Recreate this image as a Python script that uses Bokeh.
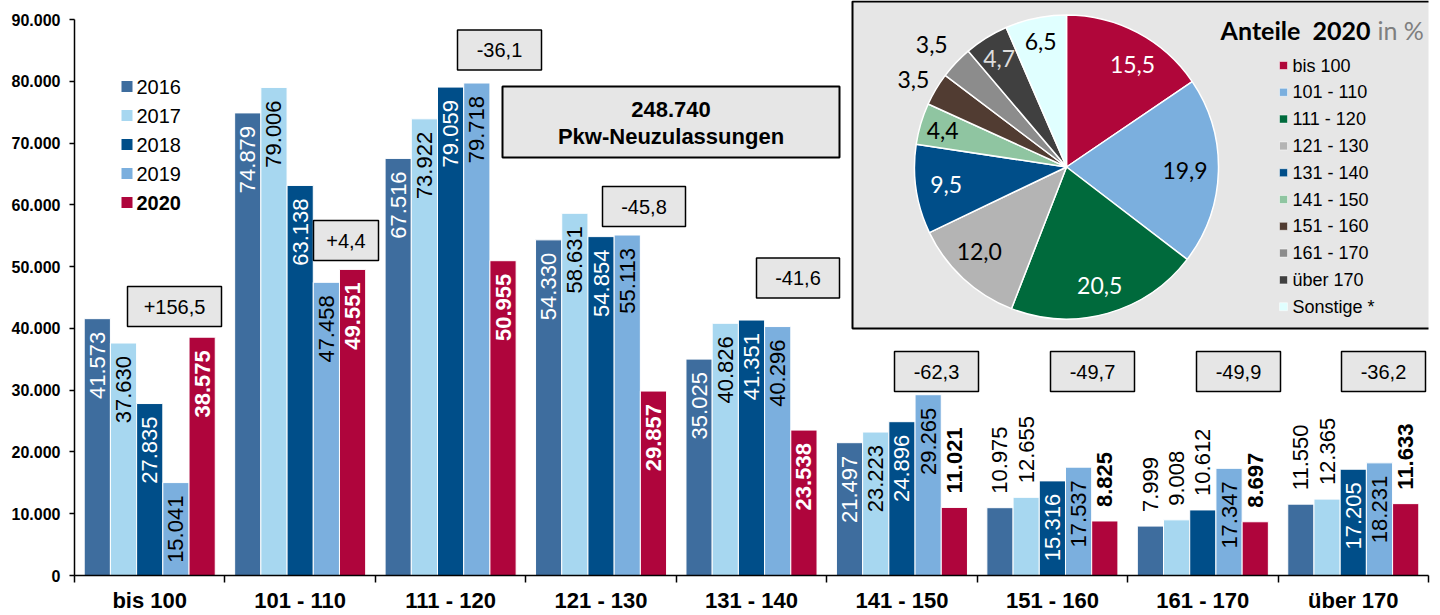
import math
from bokeh.plotting import figure
from bokeh.models import Range1d, FixedTicker
from bokeh.core.properties import value
from bokeh.embed import file_html
from bokeh.resources import INLINE

# ---------------- data ----------------
categories = ["bis 100", "101 - 110", "111 - 120", "121 - 130", "131 - 140",
              "141 - 150", "151 - 160", "161 - 170", "über 170"]
years = ["2016", "2017", "2018", "2019", "2020"]
v2016 = [41573, 74879, 67516, 54330, 35025, 21497, 10975, 7999, 11550]
v2017 = [37630, 79006, 73922, 58631, 40826, 23223, 12655, 9008, 12365]
v2018 = [27835, 63138, 79059, 54854, 41351, 24896, 15316, 10612, 17205]
v2019 = [15041, 47458, 79718, 55113, 40296, 29265, 17537, 17347, 18231]
v2020 = [38575, 49551, 50955, 29857, 23538, 11021, 8825, 8697, 11633]
changes = ["+156,5", "+4,4", "-36,1", "-45,8", "-41,6", "-62,3", "-49,7", "-49,9", "-36,2"]
y_ticks = [0, 10000, 20000, 30000, 40000, 50000, 60000, 70000, 80000, 90000]
y_tick_labels = ["0", "10.000", "20.000", "30.000", "40.000", "50.000",
                 "60.000", "70.000", "80.000", "90.000"]
total_value = "248.740"
total_text = "Pkw-Neuzulassungen"
pie_names = ["bis 100", "101 - 110", "111 - 120", "121 - 130", "131 - 140",
             "141 - 150", "151 - 160", "161 - 170", "über 170", "Sonstige *"]
pie_shares = [15.5, 19.9, 20.5, 12.0, 9.5, 4.4, 3.5, 3.5, 4.7, 6.5]
pie_title = "Anteile\u00a0 2020"
pie_unit = "in %"

# ---------------- styles ----------------
bar_colors = ["#3E6D9E", "#A7D7F0", "#004E89", "#7BAFDE", "#AF053C"]
inside_text_colors = ["white", "black", "white", "black", "white"]
pie_colors = ["#B0063A", "#7BAFDE", "#006A3C", "#B4B4B4", "#004E89",
              "#8FC5A1", "#513C32", "#8C8C8C", "#404040", "#E0FFFF"]
pie_text_colors = ["white", "black", "white", "black", "white",
                   "black", "black", "black", "#DDDDDD", "black"]
BOX_FILL = "#E6E6E6"
FONT = value("Liberation Sans")
PIE_FONT = value("Lato")

# ---------------- layout (screen px) ----------------
W, H = 1440, 615
SX0, SX1 = 74, 1428
SY_TOP, SY_ZERO, SY_90 = 0, 575, 19
PXX = (SX1 - SX0) / 9
PXY = (SY_ZERO - SY_90) / 90000
Y_END = (SY_ZERO - SY_TOP) / PXY


def X(sx):
    return 0.5 + (sx - SX0) / PXX


def Y(sy):
    return (SY_ZERO - sy) / PXY


def DX(px):
    return px / PXX


def DY(px):
    return px / PXY


p = figure(width=W, height=H, x_range=Range1d(0.5, 9.5), y_range=Range1d(0, Y_END),
           output_backend="svg", toolbar_location=None,
           min_border_left=SX0, min_border_right=W - SX1,
           min_border_top=SY_TOP, min_border_bottom=H - SY_ZERO)
p.outline_line_color = None
p.xgrid.visible = False
p.ygrid.visible = False
p.background_fill_color = "white"

# x axis
p.xaxis.ticker = FixedTicker(ticks=list(range(1, 10)), minor_ticks=[k + 0.5 for k in range(10)])
p.xaxis.major_label_overrides = {i + 1: c for i, c in enumerate(categories)}
p.xaxis.major_tick_line_color = None
p.xaxis.major_tick_out = 0
p.xaxis.major_tick_in = 0
p.xaxis.minor_tick_out = 7
p.xaxis.minor_tick_in = 0
p.xaxis.minor_tick_line_color = "black"
p.xaxis.minor_tick_line_width = 1.5
p.xaxis.axis_line_color = "black"
p.xaxis.axis_line_width = 1.5
p.xaxis.major_label_text_font = "Liberation Sans"
p.xaxis.major_label_text_font_size = "22px"
p.xaxis.major_label_text_font_style = "bold"
p.xaxis.major_label_text_color = "black"
p.xaxis.major_label_standoff = 5

# y axis
p.yaxis.ticker = FixedTicker(ticks=y_ticks)
p.yaxis.major_label_overrides = dict(zip(y_ticks, y_tick_labels))
p.yaxis.bounds = (0, 90000)
p.yaxis.minor_tick_line_color = None
p.yaxis.major_tick_out = 5
p.yaxis.major_tick_in = 0
p.yaxis.major_tick_line_color = "black"
p.yaxis.major_tick_line_width = 1.5
p.yaxis.axis_line_color = "black"
p.yaxis.axis_line_width = 1.5
p.yaxis.major_label_standoff = 9
p.yaxis.major_label_text_font = "Liberation Sans"
p.yaxis.major_label_text_font_size = "16px"
p.yaxis.major_label_text_font_style = "bold"
p.yaxis.major_label_text_color = "black"

# ---------------- bars ----------------
series = [v2016, v2017, v2018, v2019, v2020]
BW = 0.1742
for j, (vals, col) in enumerate(zip(series, bar_colors)):
    xs = [i + 1 + (j - 2) * BW for i in range(len(categories))]
    p.vbar(x=xs, top=vals, bottom=0, width=BW, fill_color=col,
           line_color="white", line_width=1)

# value labels
for j, vals in enumerate(series):
    bold = (j == 4)
    groups = {"in": ([], [], []), "out": ([], [], [])}
    for i, v in enumerate(vals):
        x = i + 1 + (j - 2) * BW
        txt = f"{v:,}".replace(",", ".")
        if v * PXY > 85:
            g = groups["in"]
            g[0].append(x); g[1].append(v - DY(13)); g[2].append(txt)
        else:
            g = groups["out"]
            g[0].append(x); g[1].append(v + DY(14)); g[2].append(txt)
    for key, (xs, ys, ts) in groups.items():
        if not xs:
            continue
        p.text(x=xs, y=ys, text=ts, angle=math.pi / 2,
               text_align="right" if key == "in" else "left",
               text_baseline="middle", text_font=FONT, text_font_size="22px",
               text_font_style="bold" if bold else "normal",
               text_color=inside_text_colors[j] if key == "in" else "black")

# ---------------- change boxes ----------------
chg_cx = [174, 345.5, 499, 643.5, 797.5, 936, 1092, 1238, 1383]
chg_cy = [306, 240, 49.5, 206, 277.5, 371, 371, 371, 371]
chg_w = [94, 65, 84, 83, 83, 84, 84, 84, 84]
chg_h = 40
p.quad(left=[X(c - w / 2) for c, w in zip(chg_cx, chg_w)],
       right=[X(c + w / 2) for c, w in zip(chg_cx, chg_w)],
       top=[Y(c - chg_h / 2) for c in chg_cy],
       bottom=[Y(c + chg_h / 2) for c in chg_cy],
       fill_color=BOX_FILL, line_color="black", line_width=1.5)
p.text(x=[X(c) for c in chg_cx], y=[Y(c) for c in chg_cy], text=changes,
       text_align="center", text_baseline="middle", text_font=FONT,
       text_font_size="20px", text_color="black")

# total box
p.quad(left=X(502), right=X(839), top=Y(86), bottom=Y(157),
       fill_color=BOX_FILL, line_color="black", line_width=2)
p.text(x=[X(670.5), X(670.5)], y=[Y(109), Y(136)], text=[total_value, total_text],
       text_align="center", text_baseline="middle", text_font=FONT,
       text_font_size="22px", text_font_style="bold", text_color="black")

# bar legend
leg_y = [86 + 29 * k for k in range(len(years))]
p.scatter(x=[X(126.5)] * len(years), y=[Y(v) for v in leg_y], marker="square",
          size=11, fill_color=bar_colors, line_color=None)
p.text(x=[X(136)] * 4, y=[Y(v) for v in leg_y[:4]], text=years[:4],
       text_align="left", text_baseline="middle", text_font=FONT,
       text_font_size="20px", text_color="black")
p.text(x=[X(136)], y=[Y(leg_y[4])], text=[years[4]],
       text_align="left", text_baseline="middle", text_font=FONT,
       text_font_size="20px", text_font_style="bold", text_color="black")

# ---------------- pie inset ----------------
p.quad(left=X(852), right=X(1433), top=Y(1), bottom=Y(328),
       fill_color=BOX_FILL, line_color="black", line_width=2)

cx, cy, R = X(1066), Y(166.5), 152
total = sum(pie_shares)
cum = 0.0
starts, ends, mids = [], [], []
for s in pie_shares:
    starts.append(math.pi / 2 - 2 * math.pi * cum / total)
    mids.append(360 * (cum + s / 2) / total)
    cum += s
    ends.append(math.pi / 2 - 2 * math.pi * cum / total)
p.wedge(x=[cx] * len(pie_shares), y=[cy] * len(pie_shares), radius=R,
        radius_units="screen", start_angle=starts, end_angle=ends,
        direction="clock", fill_color=pie_colors, line_color="white", line_width=1.5)

lab_f = [0.80, 0.78, 0.81, 0.80, 0.80, 0.85, 1.16, 1.20, 0.84, 0.84]
lab_da = [5, 0, 0, 3, 0, 0, -1, -1, 0, 0]
lx, ly = [], []
for m, f, da in zip(mids, lab_f, lab_da):
    th = math.radians(m + da)
    lx.append(cx + DX(f * R * math.sin(th)))
    ly.append(cy + DY(f * R * math.cos(th)))
pie_texts = [f"{s:.1f}".replace(".", ",") for s in pie_shares]
p.text(x=lx, y=ly, text=pie_texts, text_align="center", text_baseline="middle",
       text_font=PIE_FONT, text_font_size="23px", text_color=pie_text_colors)

# pie title
p.text(x=[X(1370)], y=[Y(29)], text=[pie_title], text_align="right",
       text_baseline="middle", text_font=PIE_FONT, text_font_size="25px",
       text_font_style="bold", text_color="black")
p.text(x=[X(1377)], y=[Y(29)], text=[pie_unit], text_align="left",
       text_baseline="middle", text_font=PIE_FONT, text_font_size="25px",
       text_color="#7F7F7F")

# pie legend
pl_y = [65 + 26.8 * k for k in range(len(pie_names))]
p.scatter(x=[X(1283)] * len(pie_names), y=[Y(v) for v in pl_y], marker="square",
          size=8, fill_color=pie_colors, line_color="white", line_width=0.5)
p.text(x=[X(1292)] * len(pie_names), y=[Y(v) for v in pl_y], text=pie_names,
       text_align="left", text_baseline="middle", text_font=FONT,
       text_font_size="18px", text_color="black")

open("out.html", "w").write(file_html(p, INLINE))
